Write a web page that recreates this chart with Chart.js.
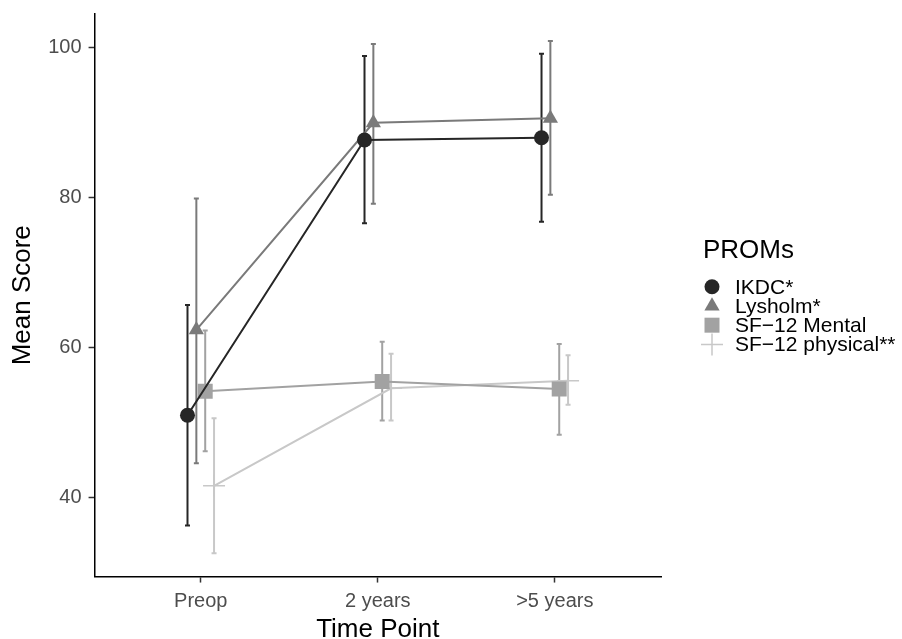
<!DOCTYPE html>
<html>
<head>
<meta charset="utf-8">
<script src="https://cdn.jsdelivr.net/npm/chart.js@4"></script>
<style>
  html, body { margin: 0; padding: 0; background: #fff; }
  #wrap { width: 902px; height: 639px; }
</style>
</head>
<body>
<div id="wrap"><canvas id="promChart" width="902" height="639"></canvas></div>
<script>
// Time points on the x axis
const categories = ['Preop', '2 years', '>5 years'];
const yTicks = [40, 60, 80, 100];

// Mean scores and error bar ends
const ikdcMean = [51.0, 87.7, 88.0];
const ikdcLow = [36.3, 76.6, 76.8];
const ikdcHigh = [65.7, 98.9, 99.2];

const lysholmMean = [62.4, 90.0, 90.6];
const lysholmLow = [44.6, 79.2, 80.4];
const lysholmHigh = [79.9, 100.5, 100.9];

const mentalMean = [54.2, 55.5, 54.5];
const mentalLow = [46.2, 50.3, 48.4];
const mentalHigh = [62.3, 60.8, 60.5];

const physicalMean = [41.6, 54.6, 55.6];
const physicalLow = [32.6, 50.3, 52.4];
const physicalHigh = [50.6, 59.2, 59.0];

const seriesNames = ['IKDC*', 'Lysholm*', 'SF\u221212 Mental', 'SF\u221212 physical**'];

const FONT = 'Liberation Sans, Arial, sans-serif';

// side-by-side shift so error bars don't overlap (like position_dodge)
const dodgeStep = 0.05;

function makeSeries(idx, mean, low, high, color, style, radius) {
    const shift = (idx - 1.5) * dodgeStep;
    return {
        label: seriesNames[idx],
        data: mean.map((m, i) => ({ x: i + 1 + shift, y: m })),
        low: low,
        high: high,
        borderColor: color,
        backgroundColor: color,
        borderWidth: 2,
        pointStyle: style,
        pointRadius: radius,
        pointHoverRadius: radius,
        pointBorderWidth: style === 'cross' ? 1.5 : 0,
        pointBorderColor: color,
        tension: 0,
        fill: false
    };
}

// Draws vertical error bars with small caps, using the chart scales
const errorBars = {
    id: 'errorBars',
    beforeDatasetsDraw(chart) {
        const ctx = chart.ctx;
        const xs = chart.scales.x;
        const ys = chart.scales.y;
        chart.data.datasets.forEach(ds => {
            ctx.save();
            ctx.strokeStyle = ds.borderColor;
            ctx.lineWidth = 2;
            ds.data.forEach((p, i) => {
                const px = xs.getPixelForValue(p.x);
                const top = ys.getPixelForValue(ds.high[i]);
                const bot = ys.getPixelForValue(ds.low[i]);
                ctx.beginPath();
                ctx.moveTo(px, top);
                ctx.lineTo(px, bot);
                ctx.moveTo(px - 2.5, top);
                ctx.lineTo(px + 2.5, top);
                ctx.moveTo(px - 2.5, bot);
                ctx.lineTo(px + 2.5, bot);
                ctx.stroke();
            });
            ctx.restore();
        });
    }
};

// ggplot-style legend to the right of the panel
const promLegend = {
    id: 'promLegend',
    afterDraw(chart) {
        const ctx = chart.ctx;
        const area = chart.chartArea;
        const x0 = area.right + 42;
        const yMid = (area.top + area.bottom) / 2;
        ctx.save();
        ctx.textBaseline = 'middle';
        ctx.textAlign = 'left';
        ctx.fillStyle = '#000';
        ctx.font = '26px ' + FONT;
        ctx.fillText('PROMs', x0, yMid - 44);
        ctx.font = '21px ' + FONT;
        chart.data.datasets.forEach((ds, i) => {
            const y = yMid - 8.5 + i * 19.2;
            ctx.fillStyle = ds.backgroundColor;
            ctx.strokeStyle = ds.borderColor;
            ctx.lineWidth = ds.pointBorderWidth;
            Chart.helpers.drawPoint(ctx, {
                pointStyle: ds.pointStyle,
                radius: ds.pointRadius,
                borderWidth: ds.pointBorderWidth
            }, x0 + 9, y);
            ctx.fillStyle = '#000';
            ctx.fillText(ds.label, x0 + 32, y + 1);
        });
        ctx.restore();
    }
};

const ctx = document.getElementById('promChart').getContext('2d');

const promChart = new Chart(ctx, {
    type: 'line',
    data: {
        datasets: [
            makeSeries(0, ikdcMean, ikdcLow, ikdcHigh, '#262626', 'circle', 7.5),
            makeSeries(1, lysholmMean, lysholmLow, lysholmHigh, '#7a7a7a', 'triangle', 8.8),
            makeSeries(2, mentalMean, mentalLow, mentalHigh, '#a2a2a2', 'rect', 10.6),
            makeSeries(3, physicalMean, physicalLow, physicalHigh, '#c8c8c8', 'cross', 11)
        ]
    },
    options: {
        responsive: false,
        animation: false,
        layout: {
            padding: { top: 14, left: 7, right: 241, bottom: 0 }
        },
        plugins: {
            tooltip: { enabled: false },
            legend: { display: false }
        },
        scales: {
            x: {
                type: 'linear',
                min: 0.4,
                max: 3.6,
                afterBuildTicks: s => { s.ticks = categories.map((c, i) => ({ value: i + 1 })); },
                ticks: {
                    callback: v => categories[Math.round(v) - 1],
                    color: '#4d4d4d',
                    font: { family: FONT, size: 20 },
                    padding: 6.5
                },
                grid: { drawOnChartArea: false, drawTicks: true, tickLength: 6, tickColor: '#333', tickWidth: 1.5 },
                border: { display: true, color: '#000', width: 1.5 },
                title: {
                    display: true,
                    text: 'Time Point',
                    color: '#000',
                    font: { family: FONT, size: 26, lineHeight: 0.69 },
                    padding: { top: 1.5, bottom: 0 }
                }
            },
            y: {
                min: 29.5,
                max: 104.5,
                afterBuildTicks: s => { s.ticks = yTicks.map(v => ({ value: v })); },
                ticks: {
                    color: '#4d4d4d',
                    font: { family: FONT, size: 20, lineHeight: 0.6 },
                    padding: 7
                },
                grid: { drawOnChartArea: false, drawTicks: true, tickLength: 6, tickColor: '#333', tickWidth: 1.5 },
                border: { display: true, color: '#000', width: 1.5 },
                title: {
                    display: true,
                    text: 'Mean Score',
                    color: '#000',
                    font: { family: FONT, size: 26 },
                    padding: { top: 0, bottom: 3 }
                }
            }
        }
    },
    plugins: [errorBars, promLegend]
});
</script>
</body>
</html>
